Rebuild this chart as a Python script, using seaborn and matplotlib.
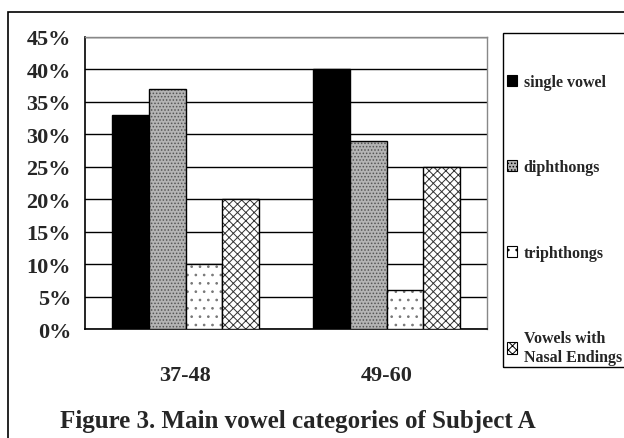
import numpy as np
import pandas as pd
import matplotlib
matplotlib.use('Agg')
import matplotlib.pyplot as plt
import matplotlib.patches as mpatches
import seaborn as sns

# data
age_groups = ['37-48', '49-60']
categories = ['single vowel', 'diphthongs', 'triphthongs', 'Vowels with\nNasal Endings']
single_vowel = [33, 40]
diphthongs = [37, 29]
triphthongs = [10, 6]
nasal_endings = [20, 25]
y_ticks = [0, 5, 10, 15, 20, 25, 30, 35, 40, 45]
title = 'Figure 3. Main vowel categories of Subject A'

df = pd.DataFrame({
    'age': age_groups * 4,
    'category': np.repeat(categories, len(age_groups)),
    'pct': single_vowel + diphthongs + triphthongs + nasal_endings,
})

sns.set_style('white')
plt.rcParams['font.family'] = ['Liberation Serif', 'DejaVu Serif']
plt.rcParams['font.weight'] = 'bold'
plt.rcParams['hatch.linewidth'] = 0.7

faces = ['black', '#b4b4b4', 'white', 'white']
hatches = [None, '.....', '..', 'xxxx']
hatch_cols = ['black', '#555555', '#777777', '#333333']

fig = plt.figure(figsize=(6.24, 4.39), dpi=100)
W, H = 624, 439
ax = fig.add_axes([85 / W, 1 - 330 / H, (487 - 85) / W, (330 - 38) / H])

sns.barplot(data=df, x='age', y='pct', hue='category', hue_order=categories,
            palette=faces, saturation=1, width=0.73, gap=0,
            edgecolor='black', linewidth=1, legend=False, ax=ax, zorder=3)

# fill patterns like the printed figure
for cont, h, hc in zip(ax.containers, hatches, hatch_cols):
    for bar in cont:
        if h:
            bar.set_hatch(h)
            bar._hatch_color = matplotlib.colors.to_rgba(hc)

ax.set_ylim(0, 45)
ax.set_yticks(y_ticks)
ax.set_yticklabels([f'{v}%' for v in y_ticks], fontsize=16, fontweight='bold')
ax.tick_params(axis='y', length=0, pad=10)
ax.set_xticks(range(len(age_groups)))
ax.set_xticklabels(age_groups, fontsize=16, fontweight='bold')
ax.tick_params(axis='x', length=0, pad=26)
ax.set_xticks([0.5], minor=True)
ax.tick_params(axis='x', which='minor', direction='in', length=8, color='#777777', width=1.2)
ax.set_xlabel('')
ax.set_ylabel('')
ax.yaxis.grid(True, color='black', linewidth=1)
ax.set_axisbelow(True)
for side in ['left', 'bottom']:
    ax.spines[side].set_color('black')
    ax.spines[side].set_linewidth(1.2)
for side in ['top', 'right']:
    ax.spines[side].set_color('#888888')
    ax.spines[side].set_linewidth(1)

handles = []
for f, h, hc in zip(faces, hatches, hatch_cols):
    handles.append(mpatches.Patch(facecolor=f, edgecolor='black', hatch=h, linewidth=0.8))

# legend box (runs off the right edge like the reference)
fig.patches.append(mpatches.Rectangle((503 / W, 1 - 368 / H), 0.5, (368 - 34) / H,
                                      transform=fig.transFigure, fill=False,
                                      edgecolor='black', linewidth=1))
leg = fig.legend(handles, categories, loc='upper left',
                 bbox_to_anchor=(507 / W, 1 - 75 / H), bbox_transform=fig.transFigure,
                 frameon=False, borderaxespad=0, borderpad=0,
                 prop={'size': 11.5, 'weight': 'bold'},
                 handlelength=0.6, handleheight=0.7, handletextpad=0.45,
                 labelspacing=4.35)

# outer border of the figure
fig.patches.append(mpatches.Rectangle((8 / W, -0.1), 1.0, 1.1 - 13 / H,
                                      transform=fig.transFigure, fill=False,
                                      edgecolor='black', linewidth=1.2))

fig.text(60 / W, 1 - 422 / H, title, fontsize=18, fontweight='bold',
         ha='left', va='center')

fig.savefig('out.png', dpi=100)
